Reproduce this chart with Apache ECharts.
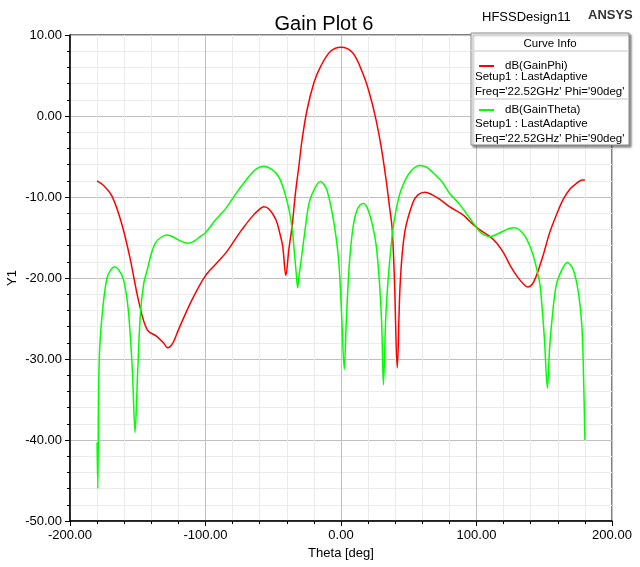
<!DOCTYPE html>
<html><head><meta charset="utf-8">
<script src="https://cdn.jsdelivr.net/npm/echarts@6/dist/echarts.min.js"></script>
<style>html,body{margin:0;padding:0;background:#fff}#c{width:640px;height:567px}</style>
</head><body><div id="c"></div>
<script>
// dB(GainPhi)
const phiTheta = [-180,-175,-169,-162,-156,-149,-143,-136,-131,-128,-124,-120,-110,-100,-92,-85,-78,-73,-65,-60,-57,-53,-48,-45,-43,-40.7,-38.5,-36.1,-33.6,-31.1,-28.7,-25,-20,-15.1,-7.7,0,8.6,16,21,25.9,29.6,33.3,35.8,37.8,39.5,41.5,43.7,47,53,57,62,67,73,80,90,95,102,110,115,120,125,130,135,138,141,144,149,154,159,164,169,174,178,180];
const phiGain  = [-8.0,-8.6,-9.9,-13.2,-17.3,-23.1,-26.4,-27.2,-28.0,-28.6,-28.0,-26.4,-22.7,-19.7,-18.2,-16.9,-15.2,-14.0,-12.3,-11.5,-11.2,-11.5,-12.8,-14.6,-16.1,-19.7,-16.5,-13.6,-9.5,-6.2,-2.9,0.8,4.1,6.1,8.0,8.5,7.8,5.3,2.8,-0.5,-3.75,-7.9,-11.2,-14.0,-20.6,-31.1,-20.6,-14.4,-10.7,-9.7,-9.4,-9.7,-10.3,-11.2,-12.2,-13.0,-14.0,-14.9,-15.7,-16.9,-18.5,-19.8,-20.8,-21.1,-20.8,-19.8,-17.3,-14.4,-12.2,-10.3,-9.0,-8.3,-7.9,-7.9];
// dB(GainTheta)
const thTheta = [-180,-179.5,-178.5,-176.6,-173,-170,-167,-164,-160.5,-157,-154,-152,-150,-148,-145.5,-143,-140,-137,-133,-128.5,-124,-120,-116,-112,-108,-104,-100,-93,-85,-78,-70,-63,-57,-51,-46,-42,-38.3,-36,-34.6,-33,-32,-31,-28.4,-26,-23.5,-19,-15,-11,-7.4,-5,-2.5,-1,0.5,2.4,4,6,8.5,11,14,17,20,23.4,26,28.4,30,31.3,33,34.6,38,41,44.4,50.6,58,63,68,74,80,88,95,102,106,110,115,120,124,128.4,132,136,139,142,145,147,150,152.3,154,155.5,158.7,163,167,171.5,175.3,177.8,179,180];
const thGain  = [-40.3,-46.0,-30.5,-25.1,-20.2,-19.0,-18.6,-19.0,-20.2,-23.9,-31.3,-39.1,-31.3,-24.3,-20.6,-19.0,-17.0,-15.7,-15.0,-14.7,-14.9,-15.3,-15.6,-15.7,-15.4,-14.9,-14.4,-12.9,-11.4,-9.7,-7.9,-6.6,-6.2,-6.6,-7.5,-9.2,-11.6,-14.0,-16.5,-19.5,-21.2,-19.8,-16.5,-13.4,-10.7,-8.8,-8.1,-8.9,-11.2,-13.4,-16.5,-19.5,-24.7,-31.3,-25.0,-18.6,-14.2,-12.0,-11.0,-10.8,-11.6,-13.6,-16.0,-20.6,-25.5,-33.2,-25.0,-20.6,-14.4,-11.3,-9.1,-7.0,-6.1,-6.3,-7.0,-8.0,-9.5,-11.0,-12.6,-14.2,-14.7,-14.9,-14.6,-14.2,-13.9,-13.8,-14.1,-14.9,-15.9,-17.3,-19.3,-21.0,-27.2,-33.6,-28.5,-25.5,-21.0,-19.0,-18.1,-19.0,-21.9,-26.0,-32.1,-40.0];

const seriesNames = ['dB(GainPhi)', 'dB(GainTheta)'];
const legendSub = ['Setup1 : LastAdaptive', "Freq='22.52GHz' Phi='90deg'"];

const FONT = '"Liberation Sans", Arial, sans-serif';
const zip = (a, b) => a.map((v, i) => [v, b[i]]);

const chart = echarts.init(document.getElementById('c'));
const labelStyle = { color: '#000', fontSize: 13, fontFamily: FONT, formatter: v => v.toFixed(2) };

chart.setOption({
  animation: false,
  backgroundColor: '#fff',
  title: { text: 'Gain Plot 6', left: 319, top: 9, textAlign: 'center',
    textStyle: { fontSize: 20, fontWeight: 'normal', color: '#000', fontFamily: FONT } },
  grid: { left: 70, right: 28, top: 35, bottom: 46, outerBoundsMode: 'none', containLabel: false,
    show: true, borderColor: '#000', borderWidth: 1, backgroundColor: '#fff' },
  xAxis: {
    type: 'value', min: -200, max: 200, interval: 100,
    name: 'Theta [deg]', nameLocation: 'middle', nameGap: 26, nameMoveOverlap: false,
    nameTextStyle: { color: '#000', fontSize: 13, fontFamily: FONT },
    axisLine: { onZero: false, lineStyle: { color: '#000', width: 1.5 } },
    axisTick: { length: 5, lineStyle: { color: '#000' } },
    minorTick: { show: true, splitNumber: 5, length: 3, lineStyle: { color: '#000' } },
    axisLabel: Object.assign({ margin: 8 }, labelStyle),
    splitLine: { lineStyle: { color: '#c0c0c0', width: 1 } },
    minorSplitLine: { show: true, lineStyle: { color: '#ebebeb', width: 1 } }
  },
  yAxis: {
    type: 'value', min: -50, max: 10, interval: 10,
    name: 'Y1', nameLocation: 'middle', nameGap: 51, nameRotate: 90, nameMoveOverlap: false,
    nameTextStyle: { color: '#000', fontSize: 13, fontFamily: FONT },
    axisLine: { onZero: false, lineStyle: { color: '#000', width: 1.5 } },
    axisTick: { length: 5, lineStyle: { color: '#000' } },
    minorTick: { show: true, splitNumber: 5, length: 3, lineStyle: { color: '#000' } },
    axisLabel: Object.assign({ margin: 8 }, labelStyle),
    splitLine: { lineStyle: { color: '#c0c0c0', width: 1 } },
    minorSplitLine: { show: true, lineStyle: { color: '#ebebeb', width: 1 } }
  },
  legend: {
    data: seriesNames, orient: 'vertical', left: 474, top: 55, z: 20,
    icon: 'rect', itemWidth: 15, itemHeight: 2, itemGap: 32,
    textStyle: { fontSize: 11.5, color: '#000', fontFamily: FONT, padding: [0, 0, 0, 6] },
    selectedMode: false
  },
  graphic: [
    { type: 'rect', z: 15, shape: { x: 471, y: 33, width: 158, height: 112 },
      style: { fill: '#fff', stroke: '#8c8c8c', lineWidth: 1, shadowColor: 'rgba(0,0,0,0.45)', shadowOffsetX: 2, shadowOffsetY: 2, shadowBlur: 2 } },
    { type: 'line', z: 16, shape: { x1: 471, y1: 51, x2: 629, y2: 51 }, style: { stroke: '#d8d8d8', lineWidth: 1.5 } },
    { type: 'line', z: 16, shape: { x1: 471, y1: 99, x2: 629, y2: 99 }, style: { stroke: '#d8d8d8', lineWidth: 1.5 } },
    { type: 'text', z: 16, x: 550, y: 44, style: { text: 'Curve Info', fill: '#000', font: '11.5px ' + FONT, textAlign: 'center', textVerticalAlign: 'middle' } },
    { type: 'text', z: 16, x: 475, y: 77, style: { text: legendSub[0], fill: '#000', font: '11.5px ' + FONT, textVerticalAlign: 'middle' } },
    { type: 'text', z: 16, x: 475, y: 92, style: { text: legendSub[1], fill: '#000', font: '11.5px ' + FONT, textVerticalAlign: 'middle' } },
    { type: 'text', z: 16, x: 475, y: 124, style: { text: legendSub[0], fill: '#000', font: '11.5px ' + FONT, textVerticalAlign: 'middle' } },
    { type: 'text', z: 16, x: 475, y: 139, style: { text: legendSub[1], fill: '#000', font: '11.5px ' + FONT, textVerticalAlign: 'middle' } },
    { type: 'text', z: 16, x: 482, y: 17, style: { text: 'HFSSDesign11', fill: '#000', font: '13px ' + FONT, textVerticalAlign: 'middle' } },
    { type: 'text', z: 16, x: 588, y: 15, style: { text: 'ANSYS', fill: '#333', font: 'bold 13px ' + FONT, textVerticalAlign: 'middle' } }
  ],
  series: [
    { name: seriesNames[0], type: 'line', data: zip(phiTheta, phiGain), showSymbol: false, smooth: 0.35,
      color: '#ff0000', lineStyle: { color: '#ff0000', width: 1.5 } },
    { name: seriesNames[1], type: 'line', data: zip(thTheta, thGain), showSymbol: false, smooth: 0.3,
      color: '#00ff00', lineStyle: { color: '#00ff00', width: 1.5 } }
  ]
});
</script></body></html>
